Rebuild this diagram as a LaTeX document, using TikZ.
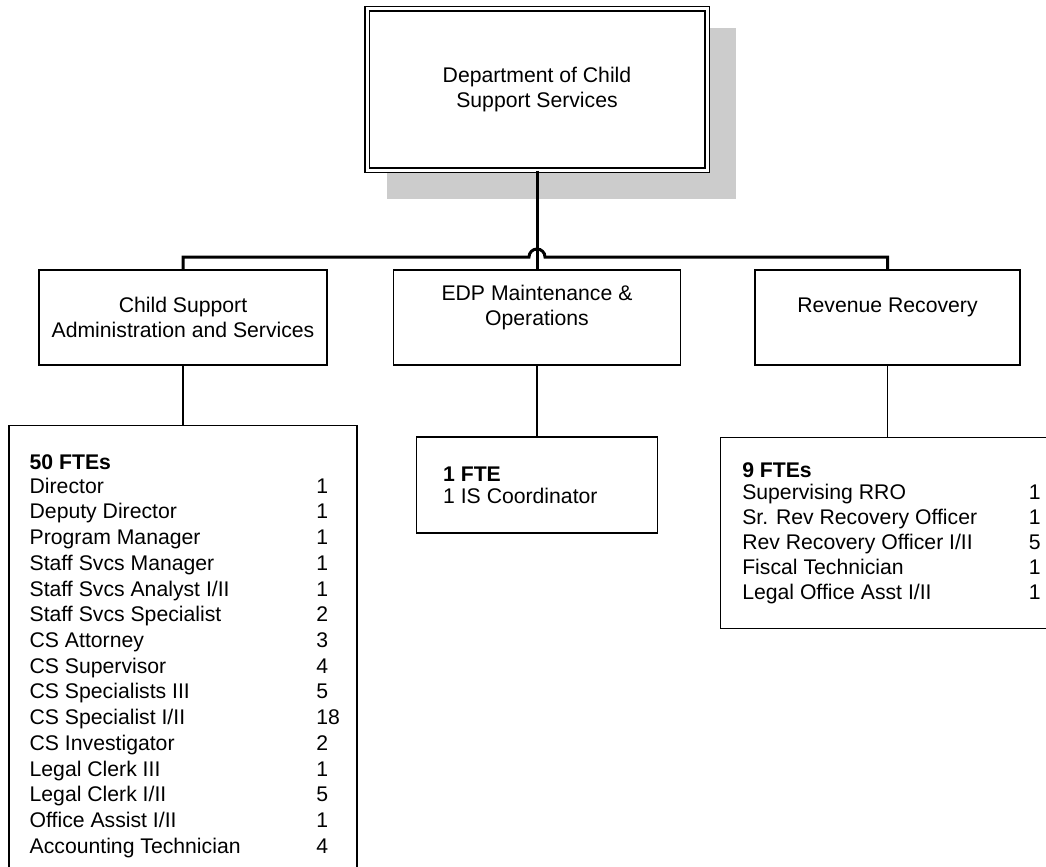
\documentclass[tikz,border=0pt]{standalone}
\usepackage{fontspec}
\setmainfont{Liberation Sans}
\usetikzlibrary{positioning,backgrounds}

\newcommand{\post}[2]{\makebox[215pt][l]{#1}#2}

\begin{document}
\begin{tikzpicture}[
  x=0.75pt, y=-0.75pt,
  unit/.style={
    draw, fill=white, line width=0.9pt, inner sep=0pt, align=center,
    font=\fontsize{15.9}{18.6}\selectfont,
  },
  listbox/.style={draw, line width=0.9pt, inner sep=0pt},
  roster/.style={anchor=north west, inner sep=0pt, align=left},
  bus/.style={line width=2.25pt},
  feed/.style={line width=0.9pt},
]
\useasboundingbox (0,0) rectangle (1046,867);
\clip (0,0) rectangle (1046,867);

% Department box -- double frame, grey offset shadow behind
\node[unit, double, line width=1pt, double distance=2.25pt,
      minimum width=255pt, minimum height=120.75pt] (dept) at (537,89.5)
      {Department of Child\\Support Services};
\begin{scope}[on background layer]
  \fill[white] (0,0) rectangle (1046,867);
  \fill[black!20] ([shift={(21,28)}]dept.south west) rectangle ([shift={(28,20)}]dept.north east);
\end{scope}

% Divisions
\node[unit, minimum width=216pt, minimum height=71.25pt] (csa) at (183,317.5)
      {Child Support\\Administration and Services};
\node[unit, minimum width=215.25pt, minimum height=71.25pt] (edp) at (537,317.5)
      {EDP Maintenance \&\\Operations\\\mbox{}};
\node[unit, minimum width=198.75pt, minimum height=71.25pt] (rev) at (887.5,317.5)
      {Revenue Recovery\\\mbox{}};

% Bus with line hop over the centre drop
\coordinate (hop) at (537,257);
\draw[bus] (dept.south) -- (edp.north);
\draw[bus] (csa.north) -- (csa.north |- hop) -- ([xshift=-6pt]hop)
  arc[start angle=180, end angle=0, radius=6pt] -- (rev.north |- hop) -- (rev.north);

% Position lists
\node[listbox, minimum width=261pt, minimum height=356pt, anchor=north] (csa-list) at (183,425) {};
\node[roster, font=\fontsize{15.9}{19.3}\selectfont] (csa-roster)
  at ([shift={(21,29)}]csa-list.north west)
  {\textbf{50 FTEs}\\[-1.3pt]
   \post{Director}{1}\\
   \post{Deputy Director}{1}\\
   \post{Program Manager}{1}\\
   \post{Staff Svcs Manager}{1}\\
   \post{Staff Svcs Analyst I/II}{1}\\
   \post{Staff Svcs Specialist}{2}\\
   \post{CS Attorney}{3}\\
   \post{CS Supervisor}{4}\\
   \post{CS Specialists III}{5}\\
   \post{CS Specialist I/II}{18}\\
   \post{CS Investigator}{2}\\
   \post{Legal Clerk III}{1}\\
   \post{Legal Clerk I/II}{5}\\
   \post{Office Assist I/II}{1}\\
   \post{Accounting Technician}{4}};

\node[listbox, minimum width=180.75pt, minimum height=72pt] (edp-list) at (537,485) {};
\node[roster, font=\fontsize{15.9}{18.6}\selectfont] (edp-roster)
  at ([shift={(27,30)}]edp-list.north west)
  {\textbf{1 FTE}\\[-2.1pt]1 IS Coordinator};

\node[listbox, minimum width=300pt, minimum height=143.25pt, anchor=north west] (rev-list) at (720,437) {};
\node[roster, font=\fontsize{15.9}{18.75}\selectfont] (rev-roster)
  at ([shift={(22,25)}]rev-list.north west)
  {\textbf{9 FTEs}\\[-2.25pt]
   \post{Supervising RRO}{1}\\
   \post{Sr. Rev Recovery Officer}{1}\\
   \post{Rev Recovery Officer I/II}{5}\\
   \post{Fiscal Technician}{1}\\
   \post{Legal Office Asst I/II}{1}};

% Drops to the lists
\draw[feed] (csa.south) -- (csa-list.north);
\draw[feed] (edp.south) -- (edp-list.north);
\draw[feed] (rev.south) -- (rev.south |- rev-list.north);

\end{tikzpicture}
\end{document}
